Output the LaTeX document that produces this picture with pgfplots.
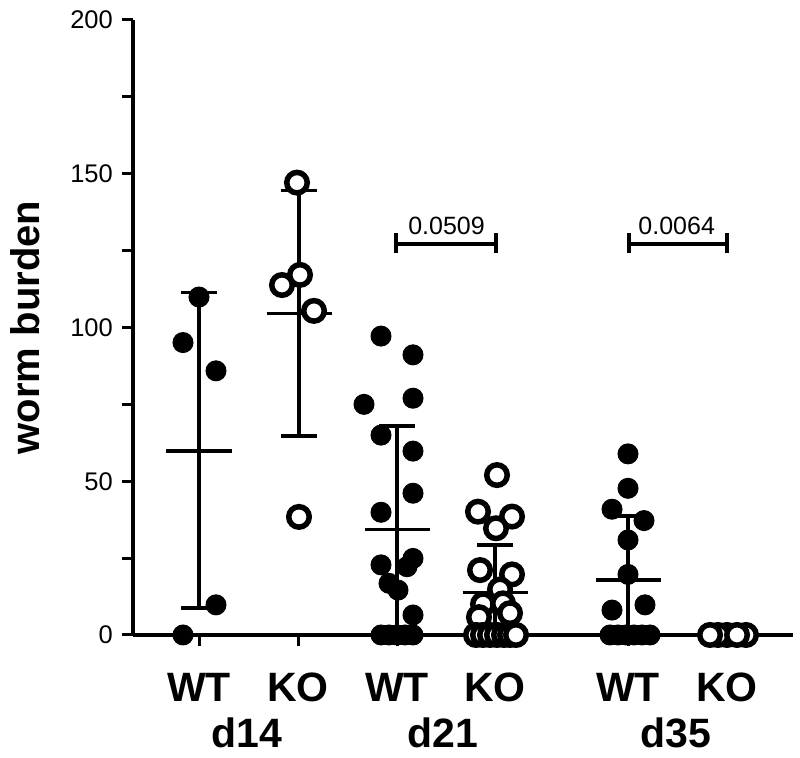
\documentclass[border=0pt]{standalone}
\usepackage{fontspec}
\setmainfont{Liberation Sans}
\usepackage{pgfplots}
\pgfplotsset{compat=1.18}
\newcommand{\tf}{\fontsize{25}{30}\selectfont}
\begin{document}
\begin{tikzpicture}
\begin{axis}[
  scale only axis, width=660pt, height=615pt,
  xmin=133, xmax=793, ymin=0, ymax=200,
  clip=false,
  axis x line*=bottom, axis y line*=left,
  axis line style={line width=3.3pt, -},
  every tick/.style={black, line width=3pt},
  tick align=outside,
  major tick length=11pt, minor tick length=11pt,
  ytick={0,50,100,150,200}, minor ytick={25,75,125,175},
  yticklabels={0,50,100,150,200},
  xtick={199,298,397,495,628,727},
  xticklabels={WT,KO,WT,KO,WT,KO},
  xticklabel style={font=\fontsize{41}{48}\selectfont\bfseries, anchor=base, inner sep=0pt, yshift=-56pt},
  yticklabel style={font=\fontsize{25.5}{30}\selectfont, anchor=east, inner sep=0pt, xshift=-9pt},
  extra x ticks={247,443,676},
  extra x tick labels={d14,d21,d35},
  extra x tick style={major tick length=0pt, xticklabel style={yshift=-57pt}},
  ylabel={worm burden},
  ylabel style={font=\fontsize{40}{48}\selectfont\bfseries, at={(axis description cs:0,0.5)}, anchor=base, yshift=93pt, inner sep=0pt},
]
\coordinate (bl) at (axis cs:0,-40);
\coordinate (tr) at (axis cs:800,206.5);

% means and SD error bars
\addplot[black, line width=3.3pt, no marks, unbounded coords=jump] coordinates {
 (166.5,59.8) (231.5,59.8) (199,nan)
 (199,8.8) (199,111.3) (199,nan)
 (181,111.3) (217,111.3) (199,nan)
 (181,8.8) (217,8.8) (199,nan)
 (266.5,104.6) (331.5,104.6) (299,nan)
 (299,64.7) (299,144.5) (299,nan)
 (281,144.5) (317,144.5) (299,nan)
 (281,64.7) (317,64.7) (299,nan)
 (364.5,34.4) (429.5,34.4) (397,nan)
 (397,0.8) (397,68.0) (397,nan)
 (379,68.0) (415,68.0) (397,nan)
 (462.5,13.8) (527.5,13.8) (495,nan)
 (495,0) (495,29.3) (495,nan)
 (477,29.3) (513,29.3) (495,nan)
 (595.5,17.9) (660.5,17.9) (628,nan)
 (628,0) (628,38.7) (628,nan)
 (610,38.7) (646,38.7) (628,nan)
 (694.5,0) (759.5,0)
};

% WT (filled)
\addplot[only marks, mark=*, mark size=10pt, mark options={fill=black, draw=black, line width=1pt}] coordinates {
 (199,109.9) (183,95.1) (216,85.9) (216,9.8) (183,0)
 (381,97.2) (413,91.1) (364,75.0) (413,77.0) (381,65.0) (413,59.8) (413,46.1) (381,39.9)
 (381,22.8) (413,24.9) (407,22.2) (389,16.8) (398,14.6) (413,6.5)
 (381,0) (389,0) (397,0) (405,0) (413,0)
 (628,58.9) (628,47.7) (612,40.9) (644,37.2) (628,30.9) (628,19.7) (612,8.1) (645,9.8)
 (610,0) (618,0) (626,0) (634,0) (642,0) (650,0)
};

% KO (open)
\addplot[only marks, mark=*, mark size=10.25pt, mark options={fill=white, draw=black, line width=5.5pt}] coordinates {
 (297,147.1) (282,113.8) (300,117.1) (314,105.4) (299,38.4)
 (497,52) (478,40.1) (512,38.5) (496,34.7) (480,21.1) (512,19.7) (500,14.8) (483,10) (503,10.3)
 (479,5.8) (510,7.1) (476,0) (483,0) (490,0) (497,0) (504,0) (510,0) (516,0)
 (746,0) (727,0) (718,0) (710,0) (737,0)
};

% significance brackets
\addplot[black, line width=4pt, no marks, unbounded coords=jump] coordinates {
 (396,124.2) (396,130.7) (396,nan)
 (396,127.3) (496,127.3) (496,nan)
 (496,124.2) (496,130.7) (496,nan)
 (629,124.2) (629,130.7) (629,nan)
 (629,127.3) (727,127.3) (727,nan)
 (727,124.2) (727,130.7)
};
\node[anchor=base, font=\tf, inner sep=0pt] at (axis cs:446.5,130.1) {0.0509};
\node[anchor=base, font=\tf, inner sep=0pt] at (axis cs:676.7,130.1) {0.0064};
\end{axis}
\pgfresetboundingbox
\useasboundingbox (bl) rectangle (tr);
\end{tikzpicture}
\end{document}
